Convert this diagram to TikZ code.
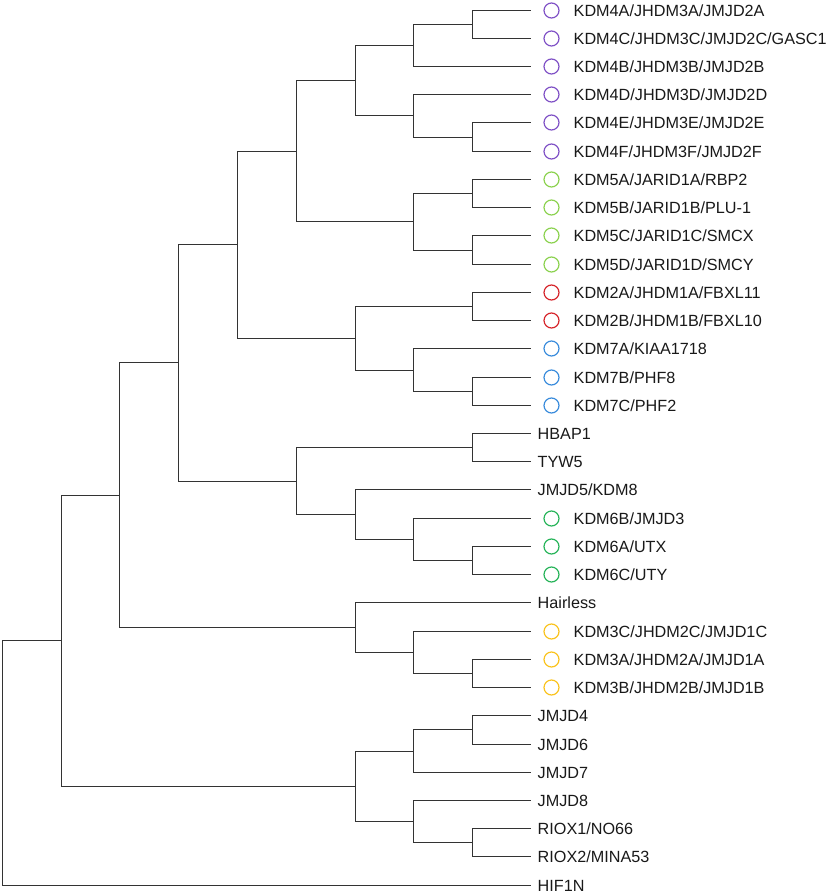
\documentclass[tikz,border=0pt]{standalone}
\usepackage{fontspec}
\setmainfont{Liberation Sans}
\usepackage{xcolor}
\usepackage{tikz}
\usetikzlibrary{calc,positioning}

\definecolor{kdmfour}{RGB}{128,82,198}
\definecolor{kdmfive}{RGB}{140,210,80}
\definecolor{kdmtwo}{RGB}{214,38,44}
\definecolor{kdmseven}{RGB}{58,140,220}
\definecolor{kdmsix}{RGB}{40,180,90}
\definecolor{kdmthree}{RGB}{250,195,30}

\begin{document}
\begin{tikzpicture}[
	%	style def
    x=1pt, y=-1pt,
    branch/.style={line width=1.4pt, color=black!80},
    every node/.style={color=black!90, font=\fontsize{16.2}{19}\selectfont},
    ring/.style={circle, draw=#1, line width=1.2pt, minimum size=15pt, inner sep=0pt},
    tip/.style={anchor=base west, inner sep=0pt, yshift=-5.8pt}
    ]
    \useasboundingbox (0,0) rectangle (837,893);

    % leaf ends
    \coordinate (l0) at (530.5,10.5);
    \coordinate (l1) at (530.5,38.5);
    \coordinate (l2) at (530.5,66.5);
    \coordinate (l3) at (530.5,94.5);
    \coordinate (l4) at (530.5,122.5);
    \coordinate (l5) at (530.5,151.5);
    \coordinate (l6) at (530.5,179.5);
    \coordinate (l7) at (530.5,207.5);
    \coordinate (l8) at (530.5,235.5);
    \coordinate (l9) at (530.5,264.5);
    \coordinate (l10) at (530.5,292.5);
    \coordinate (l11) at (530.5,320.5);
    \coordinate (l12) at (530.5,348.5);
    \coordinate (l13) at (530.5,377.5);
    \coordinate (l14) at (530.5,405.5);
    \coordinate (l15) at (530.5,433.5);
    \coordinate (l16) at (530.5,461.5);
    \coordinate (l17) at (530.5,489.5);
    \coordinate (l18) at (530.5,518.5);
    \coordinate (l19) at (530.5,546.5);
    \coordinate (l20) at (530.5,574.5);
    \coordinate (l21) at (530.5,602.5);
    \coordinate (l22) at (530.5,631.5);
    \coordinate (l23) at (530.5,659.5);
    \coordinate (l24) at (530.5,687.5);
    \coordinate (l25) at (530.5,715.5);
    \coordinate (l26) at (530.5,744.5);
    \coordinate (l27) at (530.5,772.5);
    \coordinate (l28) at (530.5,800.5);
    \coordinate (l29) at (530.5,828.5);
    \coordinate (l30) at (530.5,856.5);
    \coordinate (l31) at (530.5,885.5);

    % inner nodes
    \coordinate (n01) at (472.5,24.5);
    \coordinate (n2) at (413.5,45.5);
    \coordinate (n45) at (472.5,137.5);
    \coordinate (n3) at (413.5,115.5);
    \coordinate (kdm4) at (355.5,80.5);
    \coordinate (n67) at (472.5,193.5);
    \coordinate (n89) at (472.5,250.5);
    \coordinate (kdm5) at (413.5,221.5);
    \coordinate (kdm45) at (296.5,151.5);
    \coordinate (kdm2) at (472.5,306.5);
    \coordinate (n1314) at (472.5,391.5);
    \coordinate (kdm7) at (413.5,370.5);
    \coordinate (kdm27) at (355.5,338.5);
    \coordinate (A) at (237.5,244.5);
    \coordinate (n1516) at (472.5,447.5);
    \coordinate (n1920) at (472.5,560.5);
    \coordinate (kdm6) at (413.5,539.5);
    \coordinate (J5) at (355.5,514.5);
    \coordinate (B) at (296.5,481.5);
    \coordinate (C) at (178.5,362.5);
    \coordinate (n2324) at (472.5,673.5);
    \coordinate (kdm3) at (413.5,652.5);
    \coordinate (Hr) at (355.5,627.5);
    \coordinate (D) at (119.5,495.5);
    \coordinate (n2526) at (472.5,729.5);
    \coordinate (n27) at (413.5,751.5);
    \coordinate (n2930) at (472.5,842.5);
    \coordinate (n28) at (413.5,821.5);
    \coordinate (JM) at (355.5,786.5);
    \coordinate (E) at (61.5,640.5);
    \coordinate (root) at (2.5,763.5);

    % branches
    \draw[branch] (n01) |- (l0) (n01) |- (l1);
    \draw[branch] (n2) |- (n01) (n2) |- (l2);
    \draw[branch] (n45) |- (l4) (n45) |- (l5);
    \draw[branch] (n3) |- (l3) (n3) |- (n45);
    \draw[branch] (kdm4) |- (n2) (kdm4) |- (n3);
    \draw[branch] (n67) |- (l6) (n67) |- (l7);
    \draw[branch] (n89) |- (l8) (n89) |- (l9);
    \draw[branch] (kdm5) |- (n67) (kdm5) |- (n89);
    \draw[branch] (kdm45) |- (kdm4) (kdm45) |- (kdm5);
    \draw[branch] (kdm2) |- (l10) (kdm2) |- (l11);
    \draw[branch] (n1314) |- (l13) (n1314) |- (l14);
    \draw[branch] (kdm7) |- (l12) (kdm7) |- (n1314);
    \draw[branch] (kdm27) |- (kdm2) (kdm27) |- (kdm7);
    \draw[branch] (A) |- (kdm45) (A) |- (kdm27);
    \draw[branch] (n1516) |- (l15) (n1516) |- (l16);
    \draw[branch] (n1920) |- (l19) (n1920) |- (l20);
    \draw[branch] (kdm6) |- (l18) (kdm6) |- (n1920);
    \draw[branch] (J5) |- (l17) (J5) |- (kdm6);
    \draw[branch] (B) |- (n1516) (B) |- (J5);
    \draw[branch] (C) |- (A) (C) |- (B);
    \draw[branch] (n2324) |- (l23) (n2324) |- (l24);
    \draw[branch] (kdm3) |- (l22) (kdm3) |- (n2324);
    \draw[branch] (Hr) |- (l21) (Hr) |- (kdm3);
    \draw[branch] (D) |- (C) (D) |- (Hr);
    \draw[branch] (n2526) |- (l25) (n2526) |- (l26);
    \draw[branch] (n27) |- (n2526) (n27) |- (l27);
    \draw[branch] (n2930) |- (l29) (n2930) |- (l30);
    \draw[branch] (n28) |- (l28) (n28) |- (n2930);
    \draw[branch] (JM) |- (n27) (JM) |- (n28);
    \draw[branch] (E) |- (D) (E) |- (JM);
    \draw[branch] (root) |- (E) (root) |- (l31);

    % family rings
    \node[ring=kdmfour] (c0) at ([xshift=21pt]l0) {};
    \node[ring=kdmfour] (c1) at ([xshift=21pt]l1) {};
    \node[ring=kdmfour] (c2) at ([xshift=21pt]l2) {};
    \node[ring=kdmfour] (c3) at ([xshift=21pt]l3) {};
    \node[ring=kdmfour] (c4) at ([xshift=21pt]l4) {};
    \node[ring=kdmfour] (c5) at ([xshift=21pt]l5) {};
    \node[ring=kdmfive] (c6) at ([xshift=21pt]l6) {};
    \node[ring=kdmfive] (c7) at ([xshift=21pt]l7) {};
    \node[ring=kdmfive] (c8) at ([xshift=21pt]l8) {};
    \node[ring=kdmfive] (c9) at ([xshift=21pt]l9) {};
    \node[ring=kdmtwo] (c10) at ([xshift=21pt]l10) {};
    \node[ring=kdmtwo] (c11) at ([xshift=21pt]l11) {};
    \node[ring=kdmseven] (c12) at ([xshift=21pt]l12) {};
    \node[ring=kdmseven] (c13) at ([xshift=21pt]l13) {};
    \node[ring=kdmseven] (c14) at ([xshift=21pt]l14) {};
    \node[ring=kdmsix] (c18) at ([xshift=21pt]l18) {};
    \node[ring=kdmsix] (c19) at ([xshift=21pt]l19) {};
    \node[ring=kdmsix] (c20) at ([xshift=21pt]l20) {};
    \node[ring=kdmthree] (c22) at ([xshift=21pt]l22) {};
    \node[ring=kdmthree] (c23) at ([xshift=21pt]l23) {};
    \node[ring=kdmthree] (c24) at ([xshift=21pt]l24) {};

    % leaf labels
    \node[tip] (t0) at ([xshift=43pt]l0) {KDM4A/JHDM3A/JMJD2A};
    \node[tip] (t1) at ([xshift=43pt]l1) {KDM4C/JHDM3C/JMJD2C/GASC1};
    \node[tip] (t2) at ([xshift=43pt]l2) {KDM4B/JHDM3B/JMJD2B};
    \node[tip] (t3) at ([xshift=43pt]l3) {KDM4D/JHDM3D/JMJD2D};
    \node[tip] (t4) at ([xshift=43pt]l4) {KDM4E/JHDM3E/JMJD2E};
    \node[tip] (t5) at ([xshift=43pt]l5) {KDM4F/JHDM3F/JMJD2F};
    \node[tip] (t6) at ([xshift=43pt]l6) {KDM5A/JARID1A/RBP2};
    \node[tip] (t7) at ([xshift=43pt]l7) {KDM5B/JARID1B/PLU-1};
    \node[tip] (t8) at ([xshift=43pt]l8) {KDM5C/JARID1C/SMCX};
    \node[tip] (t9) at ([xshift=43pt]l9) {KDM5D/JARID1D/SMCY};
    \node[tip] (t10) at ([xshift=43pt]l10) {KDM2A/JHDM1A/FBXL11};
    \node[tip] (t11) at ([xshift=43pt]l11) {KDM2B/JHDM1B/FBXL10};
    \node[tip] (t12) at ([xshift=43pt]l12) {KDM7A/KIAA1718};
    \node[tip] (t13) at ([xshift=43pt]l13) {KDM7B/PHF8};
    \node[tip] (t14) at ([xshift=43pt]l14) {KDM7C/PHF2};
    \node[tip] (t15) at ([xshift=7pt]l15) {HBAP1};
    \node[tip] (t16) at ([xshift=7pt]l16) {TYW5};
    \node[tip] (t17) at ([xshift=7pt]l17) {JMJD5/KDM8};
    \node[tip] (t18) at ([xshift=43pt]l18) {KDM6B/JMJD3};
    \node[tip] (t19) at ([xshift=43pt]l19) {KDM6A/UTX};
    \node[tip] (t20) at ([xshift=43pt]l20) {KDM6C/UTY};
    \node[tip] (t21) at ([xshift=7pt]l21) {Hairless};
    \node[tip] (t22) at ([xshift=43pt]l22) {KDM3C/JHDM2C/JMJD1C};
    \node[tip] (t23) at ([xshift=43pt]l23) {KDM3A/JHDM2A/JMJD1A};
    \node[tip] (t24) at ([xshift=43pt]l24) {KDM3B/JHDM2B/JMJD1B};
    \node[tip] (t25) at ([xshift=7pt]l25) {JMJD4};
    \node[tip] (t26) at ([xshift=7pt]l26) {JMJD6};
    \node[tip] (t27) at ([xshift=7pt]l27) {JMJD7};
    \node[tip] (t28) at ([xshift=7pt]l28) {JMJD8};
    \node[tip] (t29) at ([xshift=7pt]l29) {RIOX1/NO66};
    \node[tip] (t30) at ([xshift=7pt]l30) {RIOX2/MINA53};
    \node[tip] (t31) at ([xshift=7pt]l31) {HIF1N};

\end{tikzpicture}
\end{document}
